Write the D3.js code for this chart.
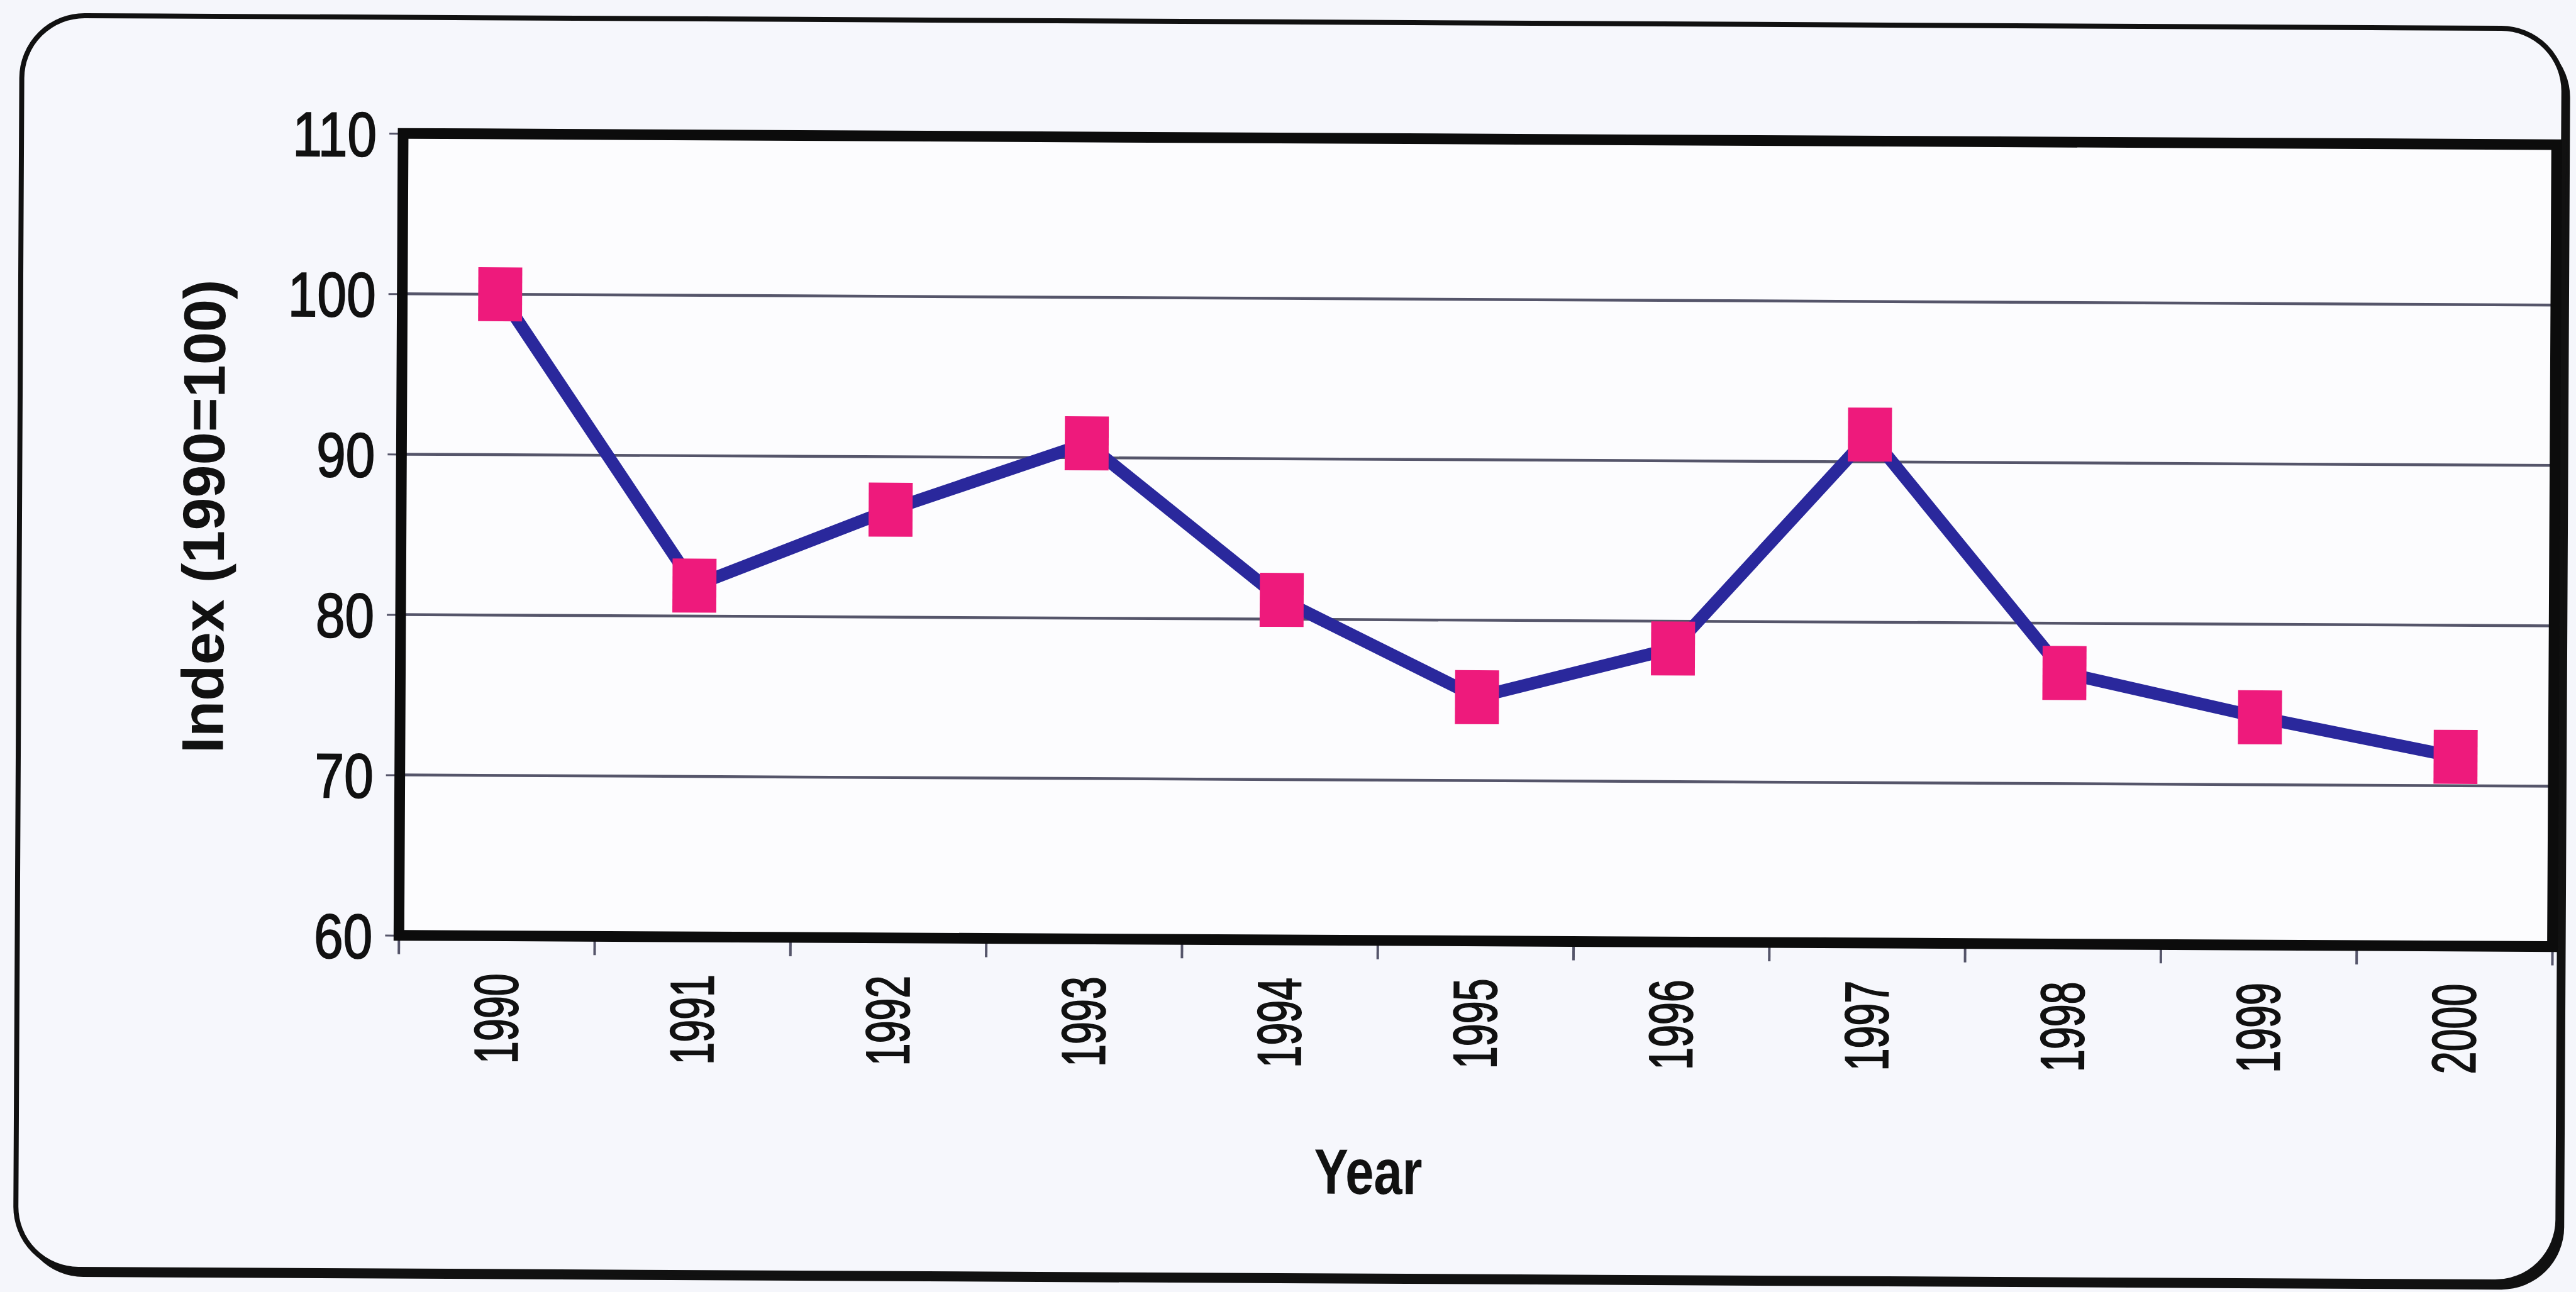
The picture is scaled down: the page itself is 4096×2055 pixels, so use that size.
<!DOCTYPE html>
<html>
<head>
<meta charset="utf-8">
<script src="https://cdn.jsdelivr.net/npm/d3@7/dist/d3.min.js"></script>
<style>
  html, body { margin: 0; padding: 0; background: #f5f6fb; overflow: hidden; }
  svg { display: block; }
  text { font-family: "Liberation Sans", Arial, Helvetica, sans-serif; fill: #111; }
  .tick text { stroke: #111; stroke-width: 2px; }
</style>
</head>
<body>
<script>
// Annual index, base year 1990 = 100
const years = ["1990", "1991", "1992", "1993", "1994", "1995", "1996", "1997", "1998", "1999", "2000"];
const indexValues = [100, 81.9, 86.7, 90.9, 81.2, 75.2, 78.3, 91.7, 76.9, 74.2, 71.8];
const yTicks = [60, 70, 80, 90, 100, 110];
const yDomain = [60, 110];
const xTitle = "Year";
const yTitle = "Index (1990=100)";

const W = 4104, H = 2059;
const plot = { left: 638, right: 4069, top: 220, bottom: 1498 };

const svg = d3.select("body").append("svg")
  .attr("width", 4096).attr("height", 2055)
  .attr("viewBox", `0 0 ${W} ${H}`);

// the whole sheet sits very slightly askew
const root = svg.append("g").attr("transform", "rotate(0.3, 2052, 1030)");

// chart area: rounded frame with a drop shadow
root.append("rect")
  .attr("x", 38).attr("y", 45).attr("width", 4052).attr("height", 2000)
  .attr("rx", 100).attr("ry", 100).attr("fill", "#111");
root.append("rect")
  .attr("x", 30).attr("y", 35).attr("width", 4050).attr("height", 1998)
  .attr("rx", 100).attr("ry", 100)
  .attr("fill", "#f6f7fc").attr("stroke", "#111").attr("stroke-width", 8);

const x = d3.scaleBand().domain(years).range([plot.left, plot.right]);
const y = d3.scaleLinear().domain(yDomain).range([plot.bottom, plot.top]);

// plot area background
root.append("rect")
  .attr("x", plot.left).attr("y", plot.top)
  .attr("width", plot.right - plot.left).attr("height", plot.bottom - plot.top)
  .attr("fill", "#fcfcfe");

// horizontal gridlines
root.append("g").selectAll("line")
  .data(yTicks.filter(t => t > yDomain[0] && t < yDomain[1]))
  .join("line")
  .attr("x1", plot.left).attr("x2", plot.right)
  .attr("y1", d => y(d)).attr("y2", d => y(d))
  .attr("stroke", "#55556a").attr("stroke-width", 4.5);

// y axis
const yAxis = root.append("g")
  .attr("transform", `translate(${plot.left},0)`)
  .call(d3.axisLeft(y).tickValues(yTicks).tickSize(22).tickPadding(0));
yAxis.select(".domain").remove();
yAxis.selectAll(".tick line").attr("stroke", "#55556a").attr("stroke-width", 3);
yAxis.selectAll(".tick text")
  .attr("x", 0).attr("dy", "0.36em")
  .attr("transform", "translate(-42,0) scale(0.84,1)")
  .attr("text-anchor", "end")
  .style("font-size", "100px").style("fill", "#111");

// x axis labels, rotated
const xAxis = root.append("g")
  .attr("transform", `translate(0,${plot.bottom})`)
  .call(d3.axisBottom(x).tickSize(0).tickPadding(0));
xAxis.select(".domain").remove();
xAxis.selectAll(".tick text")
  .attr("y", 0).attr("dy", 0).attr("x", 0)
  .attr("transform", "translate(0,60) rotate(-90) scale(0.66,1)")
  .attr("text-anchor", "end")
  .attr("dominant-baseline", "central")
  .style("font-size", "98px").style("fill", "#111");

// x tick marks at the category boundaries
const boundaries = years.map(d => x(d)).concat([x.range()[1]]);
root.append("g").selectAll("line")
  .data(boundaries)
  .join("line")
  .attr("x1", d => d).attr("x2", d => d)
  .attr("y1", plot.bottom).attr("y2", plot.bottom + 30)
  .attr("stroke", "#55556a").attr("stroke-width", 4);

// plot area frame
root.append("rect")
  .attr("x", plot.left).attr("y", plot.top)
  .attr("width", plot.right - plot.left).attr("height", plot.bottom - plot.top)
  .attr("fill", "none").attr("stroke", "#0c0c0c").attr("stroke-width", 17);

// series line
const cx = d => x(d) + x.bandwidth() / 2;
const line = d3.line()
  .x((v, i) => cx(years[i]))
  .y(v => y(v));
root.append("path")
  .datum(indexValues)
  .attr("d", line)
  .attr("fill", "none")
  .attr("stroke", "#2a289c")
  .attr("stroke-width", 20)
  .attr("stroke-linejoin", "miter");

// square markers
const mw = 70, mh = 86;
root.append("g").selectAll("rect")
  .data(indexValues)
  .join("rect")
  .attr("x", (v, i) => cx(years[i]) - mw / 2)
  .attr("y", v => y(v) - mh / 2)
  .attr("width", mw).attr("height", mh)
  .attr("fill", "#ee1a7c");

// axis titles
root.append("text")
  .attr("transform", "translate(2184,1902) scale(0.8,1)")
  .attr("text-anchor", "middle")
  .style("font-size", "102px").style("font-weight", "bold")
  .text(xTitle);

root.append("text")
  .attr("transform", "translate(356,832) rotate(-90)")
  .attr("text-anchor", "middle")
  .style("font-size", "94px").style("font-weight", "bold")
  .text(yTitle);
</script>
</body>
</html>
